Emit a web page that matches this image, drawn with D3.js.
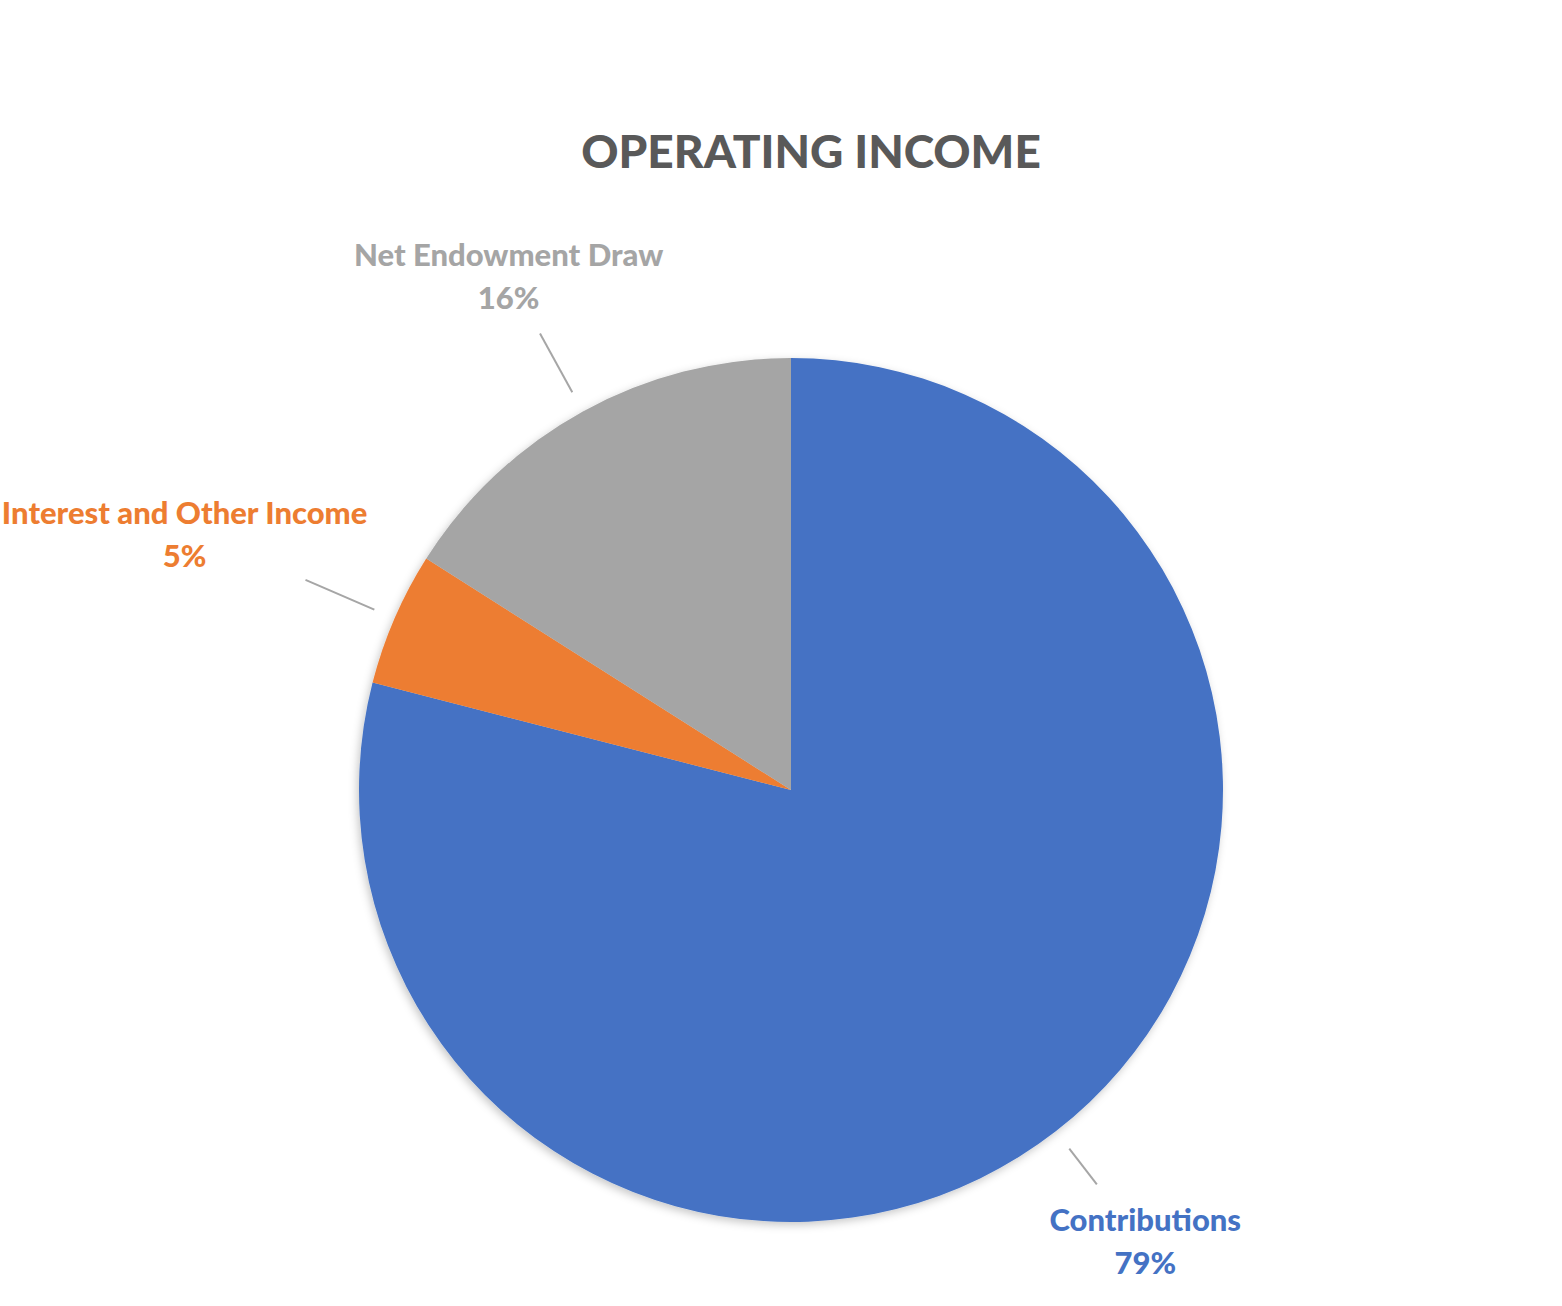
<!DOCTYPE html>
<html>
<head>
<meta charset="utf-8">
<script src="https://cdn.jsdelivr.net/npm/d3@7"></script>
<style>
  html, body { margin: 0; padding: 0; background: #fff; }
  text { font-family: Lato, "Open Sans", sans-serif; font-weight: 900; }
</style>
</head>
<body>
<div id="chart"></div>
<script>
// chart data
var categories = ["Contributions", "Interest and Other Income", "Net Endowment Draw"];
var shares = [79, 5, 16];
var colors = ["#4472C4", "#ED7D31", "#A5A5A5"];
var pctLabels = ["79%", "5%", "16%"];

var width = 1562, height = 1306;
var cx = 791, cy = 790, radius = 432;

// label placement per slice: radius of text block centre, angle nudge (deg), leader outer end
var labelRadius = [582, 654, 577];
var labelNudge = [0.3, -1.4, -0.5];
var leaderOuter = [499, 529, 521];

var svg = d3.select("#chart").append("svg")
	.attr("width", width)
	.attr("height", height);

// soft shadow under the pie
var defs = svg.append("defs");
var shadow = defs.append("filter").attr("id", "shadow")
	.attr("x", "-10%").attr("y", "-10%").attr("width", "120%").attr("height", "120%");
shadow.append("feDropShadow")
	.attr("dx", -2).attr("dy", 3)
	.attr("stdDeviation", 4)
	.attr("flood-color", "#000")
	.attr("flood-opacity", 0.22);

// title
svg.append("text")
	.attr("x", 811)
	.attr("y", 168)
	.attr("text-anchor", "middle")
	.attr("fill", "#595959")
	.style("font-size", "46px")
	.text("OPERATING INCOME");

var pie = d3.pie().sort(null).value(function(d) { return d; });
var arcs = pie(shares);

var arc = d3.arc().innerRadius(0).outerRadius(radius);

var g = svg.append("g").attr("transform", "translate(" + cx + "," + cy + ")");

g.append("g").attr("filter", "url(#shadow)")
	.selectAll("path")
	.data(arcs)
	.enter()
	.append("path")
	.attr("d", arc)
	.attr("fill", function(d, i) { return colors[i]; });

// leader lines
var mid = function(d) { return (d.startAngle + d.endAngle) / 2; };
var polar = function(a, r) { return [Math.sin(a) * r, -Math.cos(a) * r]; };

g.selectAll("line.leader")
	.data(arcs)
	.enter()
	.append("line")
	.attr("class", "leader")
	.attr("x1", function(d) { return polar(mid(d), radius + 22)[0]; })
	.attr("y1", function(d) { return polar(mid(d), radius + 22)[1]; })
	.attr("x2", function(d, i) { return polar(mid(d), leaderOuter[i])[0]; })
	.attr("y2", function(d, i) { return polar(mid(d), leaderOuter[i])[1]; })
	.attr("stroke", "#A6A6A6")
	.attr("stroke-width", 2);

// data labels
var labels = g.selectAll("text.lbl")
	.data(arcs)
	.enter()
	.append("text")
	.attr("class", "lbl")
	.attr("text-anchor", "middle")
	.attr("fill", function(d, i) { return colors[i]; })
	.style("font-size", "31px")
	.attr("transform", function(d, i) {
		var p = polar(mid(d) + labelNudge[i] * Math.PI / 180, labelRadius[i]);
		return "translate(" + p[0] + "," + p[1] + ")";
	});

labels.append("tspan")
	.attr("x", 0)
	.attr("y", -21)
	.text(function(d, i) { return categories[i]; });

labels.append("tspan")
	.attr("x", 0)
	.attr("y", 22)
	.text(function(d, i) { return pctLabels[i]; });
</script>
</body>
</html>
